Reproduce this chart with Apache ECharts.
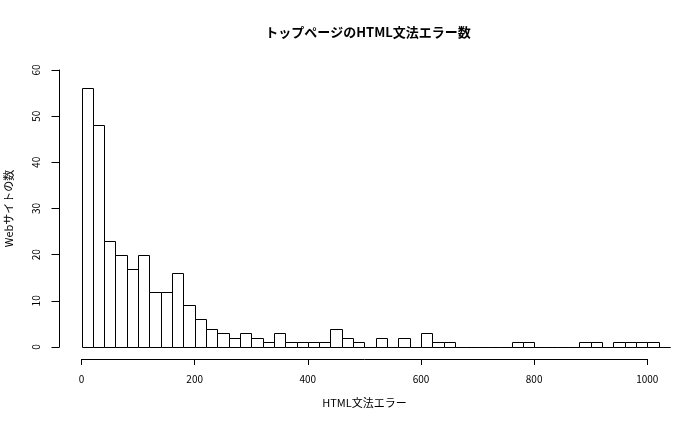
<!DOCTYPE html>
<html>
<head>
<meta charset="utf-8">
<script src="https://cdn.jsdelivr.net/npm/echarts@6/dist/echarts.min.js"></script>
<style>html,body{margin:0;padding:0;background:#fff}#c{width:700px;height:432px}</style>
</head>
<body>
<div id="c"></div>
<script>
var titleText = 'トップページのHTML文法エラー数';
var xTitle = 'HTML文法エラー';
var yTitle = 'Webサイトの数';
var binWidth = 20;
var binStart = 0;
var counts = [56, 48, 23, 20, 17, 20, 12, 12, 16, 9,
              6, 4, 3, 2, 3, 2, 1, 3, 1, 1,
              1, 1, 4, 2, 1, 0, 2, 0, 2, 0,
              3, 1, 1, 0, 0, 0, 0, 0, 1, 1,
              0, 0, 0, 0, 1, 1, 0, 1, 1, 1,
              1, 0];
var xTicks = [0, 200, 400, 600, 800, 1000];
var yTicks = [0, 10, 20, 30, 40, 50, 60];

var FONT = '"Noto Sans CJK JP", "Noto Sans", sans-serif';
var bins = counts.map(function (c, i) {
  return [binStart + i * binWidth, binStart + (i + 1) * binWidth, c];
});

var chart = echarts.init(document.getElementById('c'), null, {renderer: 'canvas'});
chart.setOption({
  animation: false,
  backgroundColor: '#fff',
  title: {
    text: titleText,
    left: 363, top: 21, textAlign: 'center',
    textStyle: {fontFamily: FONT, fontSize: 13, fontWeight: 'bold', color: '#000'}
  },
  grid: {left: 81.5, right: 52.7, top: 70, bottom: 85, containLabel: false, outerBoundsMode: 'none'},
  xAxis: {
    type: 'value', min: xTicks[0], max: xTicks[xTicks.length - 1], interval: 200,
    offset: 12,
    name: xTitle, nameLocation: 'middle', nameGap: 38,
    nameTextStyle: {fontFamily: FONT, fontSize: 11, color: '#000'},
    axisLine: {show: true, onZero: false, lineStyle: {color: '#000', width: 1}},
    axisTick: {show: true, length: 6, lineStyle: {color: '#000'}},
    axisLabel: {fontFamily: FONT, fontSize: 10, color: '#000', margin: 15,
      formatter: function (v) { return String(v); }},
    splitLine: {show: false}
  },
  yAxis: {
    type: 'value', min: yTicks[0], max: yTicks[yTicks.length - 1], interval: 10,
    offset: 22,
    name: yTitle, nameLocation: 'middle', nameGap: 45,
    nameTextStyle: {fontFamily: FONT, fontSize: 11, color: '#000'},
    axisLine: {show: true, onZero: false, lineStyle: {color: '#000', width: 1}},
    axisTick: {show: true, length: 8, lineStyle: {color: '#000'}},
    axisLabel: {fontFamily: FONT, fontSize: 10, color: '#000', margin: 18, rotate: 90,
      formatter: function (v) { return String(v); }},
    splitLine: {show: false}
  },
  series: [{
    type: 'custom',
    clip: false,
    data: bins,
    encode: {x: [0, 1], y: 2},
    renderItem: function (params, api) {
      var p0 = api.coord([api.value(0), api.value(2)]);
      var p1 = api.coord([api.value(1), 0]);
      var x0 = Math.round(p0[0]) + 0.5, x1 = Math.round(p1[0]) + 0.5;
      var y0 = Math.round(p0[1]) + 0.5, y1 = Math.round(p1[1]) + 0.5;
      return {
        type: 'rect',
        shape: {x: x0, y: y0, width: x1 - x0, height: y1 - y0},
        style: {fill: '#fff', stroke: '#000', lineWidth: 1}
      };
    }
  }]
});
</script>
</body>
</html>
